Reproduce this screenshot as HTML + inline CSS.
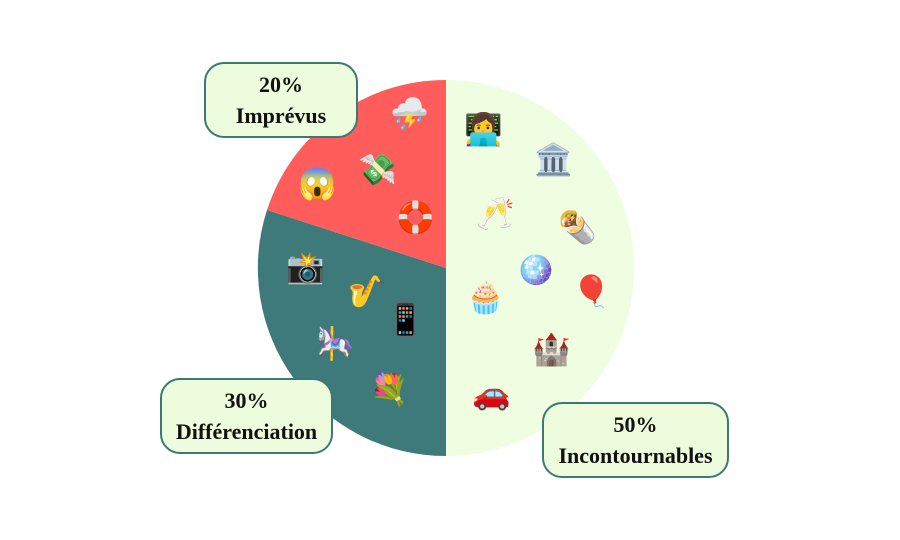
<!DOCTYPE html>
<html><head><meta charset="utf-8"><style>
body{margin:0;width:900px;height:540px;background:#fff;position:relative;overflow:hidden;font-family:"Liberation Serif",serif}
.b{position:absolute;background:#edfcdc;border:2px solid #3b7a74;border-radius:20px;box-sizing:border-box;text-align:center;font-weight:bold;font-size:22px;line-height:31px;color:#111;padding-top:5px}
.e{position:absolute;font-size:31px;line-height:1}
</style></head><body>
<svg width="900" height="540" style="position:absolute;left:0;top:0">
<path d="M446,268 L446,80 A188,188 0 0 1 446,456 Z" fill="#effde0"/>
<path d="M446,268 L446,456 A188,188 0 0 1 267,210 Z" fill="#3f7a7a"/>
<path d="M446,268 L267,210 A188,188 0 0 1 446,80 Z" fill="#ff5c5c"/>
</svg>
<div class="b" style="left:204px;top:62px;width:154px;height:76px">20%<br>Imprévus</div>
<div class="b" style="left:160px;top:378px;width:173px;height:76px">30%<br>Différenciation</div>
<div class="b" style="left:542px;top:402px;width:187px;height:76px">50%<br>Incontournables</div>
<div class="e" style="left:390px;top:98px">⛈️</div>
<div class="e" style="left:358px;top:154px">💸</div>
<div class="e" style="left:298px;top:168px">😱</div>
<div class="e" style="left:396px;top:202px">🛟</div>
<div class="e" style="left:464px;top:114px">👩‍💻</div>
<div class="e" style="left:534px;top:144px">🏛️</div>
<div class="e" style="left:476px;top:198px">🥂</div>
<div class="e" style="left:558px;top:212px">🌯</div>
<div class="e" style="left:516px;top:254px">🪩</div>
<div class="e" style="left:572px;top:276px">🎈</div>
<div class="e" style="left:466px;top:282px">🧁</div>
<div class="e" style="left:532px;top:334px">🏰</div>
<div class="e" style="left:472px;top:378px">🚗</div>
<div class="e" style="left:286px;top:252px">📸</div>
<div class="e" style="left:348px;top:276px">🎷</div>
<div class="e" style="left:386px;top:304px">📱</div>
<div class="e" style="left:316px;top:328px">🎠</div>
<div class="e" style="left:370px;top:374px">💐</div>
</body></html>
